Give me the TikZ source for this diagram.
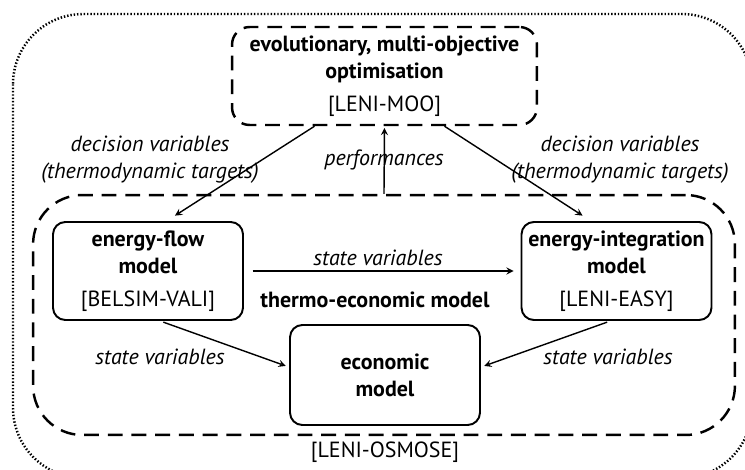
\documentclass[tikz,border=0pt]{standalone}
\usepackage{fontspec}
\setmainfont{PT Sans}
\usepackage{tikz}
\usetikzlibrary{shapes,arrows,positioning,calc}

\begin{document}
\begin{tikzpicture}[auto, >=stealth, x=0.02cm, y=-0.02cm]
        \tikzset{
            model/.style={draw, rectangle, rounded corners=7pt, minimum width=3.8cm, minimum height=1.96cm, align=center, line width=1.1pt, inner sep=2pt, font=\fontsize{12.5}{15.5}\selectfont},
            group/.style={draw, rectangle, line width=1.4pt, dash pattern=on 8.5pt off 5pt},
            conn/.style={->, line width=0.8pt, shorten >=2pt},
            lbl/.style={align=center, inner sep=1pt, font=\fontsize{12.5}{15.5}\selectfont\itshape},
            tool/.style={font=\fontsize{12.5}{15.5}\selectfont},
        }
        \useasboundingbox (0,0) rectangle (745,470);
        \clip (0,0) rectangle (745,470);

        % OSMOSE platform
        \draw [line width=1.4pt, dash pattern=on 0.8pt off 1.1pt, rounded corners=40pt] (13,14) rectangle (752,478);
        \node [tool] (osmose) at (385,452) {[LENI-OSMOSE]};

        % Optimiser
        \node [group, rounded corners=10pt, minimum width=6.1cm, minimum height=1.96cm, align=center, tool] (moo) at (384.5,76)
            {\textbf{evolutionary, multi-objective}\\\textbf{optimisation}\\[3pt][LENI-MOO]};

        % Thermo-economic model
        \node [group, rounded corners=28pt, minimum width=14.04cm, minimum height=4.8cm] (te) at (384,315) {};
        \node [tool, font=\fontsize{12.5}{15.5}\selectfont\bfseries] (thermo) at (375,300) {thermo-economic model};

        % Energy-flow model
        \node [model] (eflow) at (148,271) {\textbf{energy-flow}\\\textbf{model}\\[3pt][BELSIM-VALI]};

        % Energy-integration model
        \node [model] (integ) at (616.5,271) {\textbf{energy-integration}\\\textbf{model}\\[3pt][LENI-EASY]};

        % Economic model
        \node [model, minimum height=2cm] (econ) at (385,375) {\textbf{economic}\\\textbf{model}};

        % Connections
        \draw [conn] ([xshift=-1.4cm]moo.south) -- ([xshift=0.48cm,yshift=2pt]eflow.north);
        \draw [conn] ([xshift=1.2cm]moo.south) -- ([xshift=-0.62cm,yshift=2pt]integ.north);
        \draw [conn, shorten >=1pt] (te.north) -- (moo.south);
        \draw [conn, shorten <=5pt, shorten >=4pt] (eflow.east) -- (integ.west);
        \draw [conn, shorten <=2pt] ([xshift=0.24cm]eflow.south) -- ([yshift=4.5pt]econ.west);
        \draw [conn, shorten <=2pt] ([xshift=-0.12cm]integ.south) -- ([yshift=4.5pt]econ.east);

        % Labels
        \node [lbl] (dv1) at (150,160) {decision variables\\(thermodynamic targets)};
        \node [lbl] (dv2) at (620,160) {decision variables\\(thermodynamic targets)};
        \node [lbl] (perf) at (384,160) {performances};
        \node [lbl] (sv1) at (378,258) {state variables};
        \node [lbl] (sv2) at (160,357) {state variables};
        \node [lbl] (sv3) at (608,357) {state variables};
\end{tikzpicture}
\end{document}
